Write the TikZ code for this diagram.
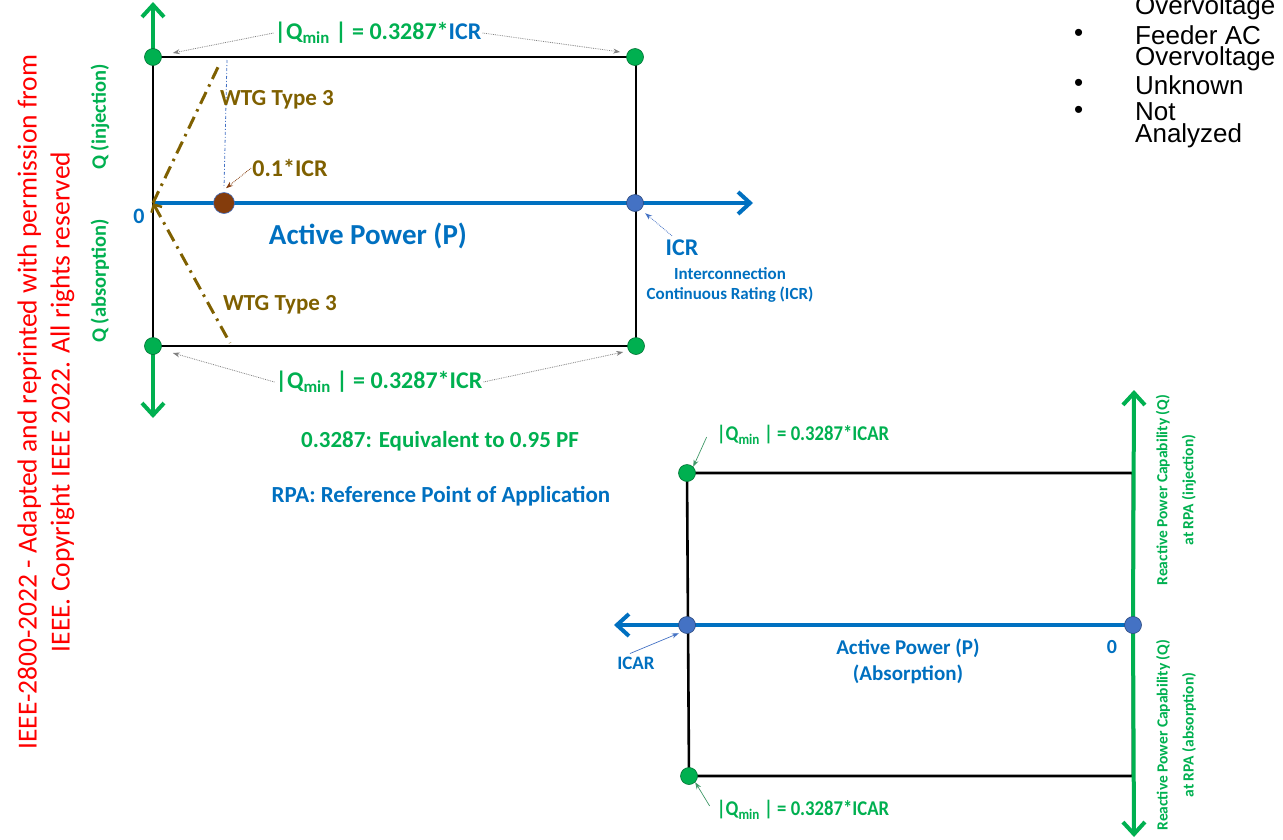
\documentclass[tikz,border=0pt]{standalone}
\usepackage{fontspec}
\usepackage{graphicx}
\setmainfont{Carlito}
\newfontfamily\listfont{Liberation Sans}
\usetikzlibrary{arrows.meta,positioning}
\definecolor{qGreen}{RGB}{0,176,80}
\definecolor{pBlue}{RGB}{0,112,192}
\definecolor{dotBlue}{RGB}{68,114,196}
\definecolor{wtgBrown}{RGB}{127,96,0}
\definecolor{dotBrown}{RGB}{132,60,12}
\definecolor{noteRed}{RGB}{255,0,0}

\begin{document}
\begin{tikzpicture}[x=1pt, y=-1pt,
  dot/.style={circle, inner sep=0pt, minimum size=17pt, draw=#1!65!black, fill=#1, line width=0.6pt},
  axis/.style={line width=4pt, -{Straight Barb[length=12pt, width=22pt, line width=4pt]}},
  frame/.style={line width=2.6pt, black},
  lbl/.style={font=\bfseries, inner sep=1pt},
  hint/.style={densely dotted, line width=0.8pt, -{Stealth[length=7pt, width=5pt]}},
  pointer/.style={line width=0.7pt, -{Stealth[length=7pt, width=5pt]}},
  wtg/.style={wtgBrown, line width=3pt, dash pattern=on 13pt off 6pt on 2.5pt off 6pt},
]
\useasboundingbox (0,0) rectangle (1283,839);

% ---- copyright note
\node[rotate=90, text=noteRed, align=center, font=\fontsize{27.5}{33}\selectfont] (note) at (46,402)
  {IEEE-2800-2022 - Adapted and reprinted with permission from\\IEEE. Copyright IEEE 2022. All rights reserved};

% ---- injection chart (top left)
\coordinate (pqTL) at (153,57);
\coordinate (pqTR) at (635,57);
\coordinate (pqBL) at (153,346);
\coordinate (pqBR) at (636,346);
\coordinate (pqO)  at (153,203);
\coordinate (pqI)  at (635,203);
\coordinate (qUp)  at (153,2);
\coordinate (qDown) at (153,418);
\coordinate (pEnd) at (753,203);
\coordinate (wtgUpEnd) at (220,63);
\coordinate (wtgDnEnd) at (230,343);
\coordinate (tenthTop) at (227,60);

\draw[frame] (pqTL) rectangle (pqBR);
\draw[axis, qGreen] (pqTL) -- (qUp);
\draw[axis, qGreen] (pqBL) -- (qDown);
\draw[axis, pBlue] (pqO) -- (pEnd);
\draw[wtg] (pqO) -- (wtgUpEnd);
\draw[wtg, {Straight Barb[length=6pt, width=12pt, line width=2.5pt]}-] (pqO) -- (wtgDnEnd);

\node[dot=qGreen] (dotTL) at (pqTL) {};
\node[dot=qGreen] (dotTR) at (pqTR) {};
\node[dot=qGreen] (dotBL) at (pqBL) {};
\node[dot=qGreen] (dotBR) at (pqBR) {};
\node[dot=dotBlue] (dotICR) at (pqI) {};
\node[circle, inner sep=0pt, minimum width=21pt, minimum height=15pt, draw=dotBlue, fill=dotBrown, line width=0.6pt] (dotTenth) at (224,203) {};
\draw[dotBlue, line width=0.8pt, dash pattern=on 3pt off 2pt on 1pt off 2pt] (tenthTop) -- ([yshift=4pt]dotTenth.north);

\node[lbl, text=qGreen, font=\bfseries\fontsize{24}{28}\selectfont] (qminTop) at (378,33)
  {|Q\textsubscript{min} | = 0.3287*\textcolor{pBlue}{ICR}};
\node[lbl, text=qGreen, font=\bfseries\fontsize{24}{28}\selectfont] (qminBot) at (379,382)
  {|Q\textsubscript{min} | = 0.3287*ICR};
\draw[hint, gray] (qminTop.west) -- ([shift={(11pt,4pt)}]dotTL.east);
\draw[hint, gray] (qminTop.east) -- ([shift={(-6pt,5pt)}]dotTR.west);
\draw[hint, gray] (qminBot.west) -- ([shift={(11pt,-7pt)}]dotBL.east);
\draw[hint, gray] (qminBot.east) -- ([shift={(-4pt,-6pt)}]dotBR.west);

\node[lbl, text=wtgBrown, font=\bfseries\fontsize{23}{26}\selectfont] (wtgUp) at (277,100) {WTG Type 3};
\node[lbl, text=wtgBrown, font=\bfseries\fontsize{23}{26}\selectfont] (wtgDn) at (280,305) {WTG Type 3};
\node[lbl, text=wtgBrown, font=\bfseries\fontsize{24}{26}\selectfont] (tenthLbl) at (290,168) {0.1*ICR};
\draw[hint, dotBrown] (tenthLbl.west) -- ([shift={(2pt,4pt)}]dotTenth.north);

\node[lbl, text=pBlue, font=\bfseries\fontsize{22}{26}\selectfont] (zeroA) at (139,216) {0};
\node[lbl, text=pBlue, font=\bfseries\fontsize{29}{32}\selectfont] (apA) at (368,236) {Active Power (P)};
\node[lbl, text=pBlue, font=\bfseries\fontsize{24}{26}\selectfont] (icrLbl) at (682,248) {ICR};
\node[lbl, text=pBlue, align=center, font=\bfseries\fontsize{17}{20}\selectfont] (icrText) at (730,285)
  {Interconnection\\Continuous Rating (ICR)};
\draw[hint, dotBlue] ([shift={(-10pt,3pt)}]icrLbl.north) -- ([shift={(4pt,-4pt)}]dotICR.south east);

\node[lbl, rotate=90, text=qGreen, font=\bfseries\fontsize{20.5}{22}\selectfont] (qInj) at (100,117) {Q (injection)};
\node[lbl, rotate=90, text=qGreen, font=\bfseries\fontsize{20.5}{22}\selectfont] (qAbs) at (100,281) {Q (absorption)};

% ---- notes
\node[lbl, text=qGreen, font=\bfseries\fontsize{23}{26}\selectfont] (pfNote) at (440,441) {0.3287: Equivalent to 0.95 PF};
\node[lbl, text=pBlue, font=\bfseries\fontsize{23}{26}\selectfont] (rpaNote) at (441,496) {RPA: Reference Point of Application};

% ---- cause list (top right)
\begin{scope}[every node/.style={anchor=west, inner sep=0pt, font=\listfont\fontsize{26}{26}\selectfont}]
  \node (ov1) at (1135,8) {Overvoltage};
  \node (ov2a) at (1135,35) {Feeder AC};
  \node (ov2b) at (1135,59) {Overvoltage};
  \node (unk) at (1135,85) {Unknown};
  \node (naA) at (1135,112) {Not};
  \node (naB) at (1135,136) {Analyzed};
  \foreach \yb in {35,85,112}
    \node at (1074,\yb) {\textbullet};
\end{scope}

% ---- absorption chart (bottom right)
\coordinate (paTL) at (687,473);
\coordinate (paTR) at (1133,473);
\coordinate (paBL) at (689,776);
\coordinate (paBR) at (1133,776);
\coordinate (paO)  at (1133,625);
\coordinate (paI)  at (687,625);
\coordinate (aqUp) at (1134,390);
\coordinate (aqDown) at (1134,837);
\coordinate (apEnd) at (614,625);

\draw[frame] (paTL) -- (paTR) -- (paBR) -- (paBL) -- cycle;
\draw[axis, qGreen] (paO) -- (aqUp);
\draw[axis, qGreen] (paO) -- (aqDown);
\draw[axis, pBlue] (paO) -- (apEnd);

\node[dot=qGreen] (adotTL) at (paTL) {};
\node[dot=qGreen] (adotBL) at (paBL) {};
\node[dot=dotBlue] (adotI) at (paI) {};
\node[dot=dotBlue] (adotO) at (paO) {};

\node[lbl, text=qGreen, font=\bfseries\fontsize{21}{24}\selectfont] (aqminTop) at (803,435)
  {\scalebox{0.89}[1]{|Q\textsubscript{min} | = 0.3287*ICAR}};
\node[lbl, text=qGreen, font=\bfseries\fontsize{21}{24}\selectfont] (aqminBot) at (803,810)
  {\scalebox{0.89}[1]{|Q\textsubscript{min} | = 0.3287*ICAR}};
\draw[pointer, qGreen!50!gray] ([shift={(-9pt,-2pt)}]aqminTop.west) -- (adotTL.north east);
\draw[pointer, qGreen!50!gray] ([shift={(-6pt,4pt)}]aqminBot.west) -- (adotBL.south east);

\node[lbl, text=pBlue, font=\bfseries\fontsize{19}{22}\selectfont] (icarLbl) at (636,663) {ICAR};
\draw[pointer, dotBlue] ([shift={(-6pt,2pt)}]icarLbl.north) -- ([shift={(-2pt,-2pt)}]adotI.south west);
\node[lbl, text=pBlue, align=center, font=\bfseries\fontsize{21}{26}\selectfont] (apB) at (908,661)
  {Active Power (P)\\(Absorption)};
\node[lbl, text=pBlue, font=\bfseries\fontsize{20}{24}\selectfont] (zeroB) at (1112,647) {0};

\node[lbl, rotate=90, text=qGreen, align=center, font=\bfseries\fontsize{15.5}{26}\selectfont] (rqInj) at (1176,490)
  {Reactive Power Capability (Q)\\at RPA (injection)};
\node[lbl, rotate=90, text=qGreen, align=center, font=\bfseries\fontsize{15.5}{26}\selectfont] (rqAbs) at (1176,735)
  {Reactive Power Capability (Q)\\at RPA (absorption)};
\end{tikzpicture}
\end{document}
